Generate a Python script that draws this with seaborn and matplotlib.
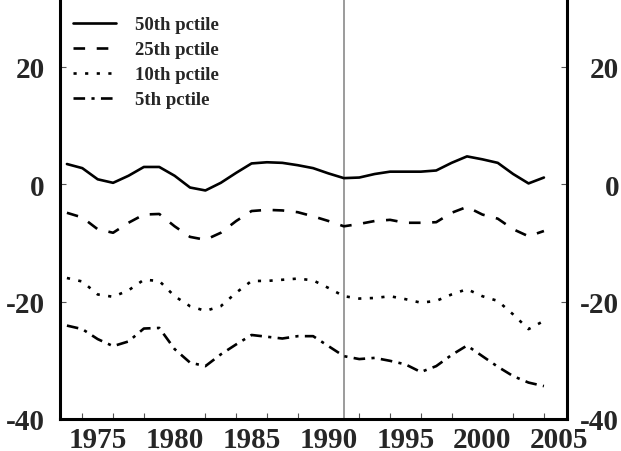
import pandas as pd
import seaborn as sns
import matplotlib.pyplot as plt
import matplotlib.transforms as mtransforms
from matplotlib.ticker import FixedLocator

# data
years = list(range(1973, 2005))

p50 = [3.4, 2.7, 0.8, 0.2, 1.4, 2.9, 2.9, 1.4, -0.6, -1.1, 0.2, 1.9,
       3.5, 3.7, 3.6, 3.2, 2.7, 1.8, 1.0, 1.1, 1.7, 2.1, 2.1, 2.1,
       2.3, 3.6, 4.7, 4.2, 3.6, 1.7, 0.1, 1.1]
p25 = [-4.9, -5.7, -7.7, -8.3, -6.6, -5.2, -5.1, -7.2, -9.0, -9.5, -8.3, -6.3,
       -4.6, -4.4, -4.5, -4.8, -5.5, -6.3, -7.2, -6.8, -6.3, -6.1, -6.6, -6.6,
       -6.5, -4.9, -3.9, -5.2, -5.9, -7.7, -8.9, -8.0]
p10 = [-16.0, -16.6, -18.8, -19.2, -18.1, -16.3, -16.5, -19.1, -20.8, -21.6, -20.8, -18.5,
       -16.5, -16.5, -16.3, -16.1, -16.4, -17.7, -19.1, -19.5, -19.4, -19.1, -19.6, -20.2,
       -19.9, -18.8, -17.9, -19.1, -19.9, -22.2, -24.7, -23.3]
p5 = [-24.1, -24.7, -26.4, -27.6, -26.8, -24.6, -24.5, -28.1, -30.4, -31.0, -29.0, -27.3,
      -25.7, -26.0, -26.3, -25.9, -25.9, -27.6, -29.3, -29.8, -29.6, -30.1, -30.7, -32.0,
      -31.0, -29.1, -27.5, -29.3, -31.1, -32.7, -33.8, -34.4]

labels = ["50th pctile", "25th pctile", "10th pctile", "5th pctile"]
series = [p50, p25, p10, p5]
styles = ["-", (0, (4.4, 4.4)), (0, (1.2, 3.2)), (0, (4.4, 2.4, 1.2, 2.4))]

x_labels = [1975, 1980, 1985, 1990, 1995, 2000, 2005]
y_ticks = [-40, -20, 0, 20]
break_year = 1991

df = pd.DataFrame({"year": years})
for lab, vals in zip(labels, series):
    df[lab] = vals

sns.set_style("white")
plt.rcParams["font.family"] = ["Liberation Serif", "DejaVu Serif"]
plt.rcParams["font.weight"] = "bold"

fig = plt.figure(figsize=(6.21, 4.52), dpi=100)
ax = fig.add_axes([60 / 621, 32 / 452, 507 / 621, 470 / 452])

for lab, ls in zip(labels, styles):
    sns.lineplot(data=df, x="year", y=lab, ax=ax, color="black",
                 linewidth=1.9, linestyle=ls, label=lab)

ax.axvline(break_year, color="#808080", linewidth=1.1, zorder=0)

ax.set_xlim(1972.55, 2005.5)
ax.set_ylim(-40, 40)
ax.set_xlabel("")
ax.set_ylabel("")

# spines
for side in ["left", "right", "bottom"]:
    ax.spines[side].set_linewidth(2.2)
    ax.spines[side].set_color("black")
ax.spines["top"].set_visible(False)

# x axis: labels without marks, small marks at even years
ax.xaxis.set_major_locator(FixedLocator(x_labels))
ax.set_xticklabels([str(v) for v in x_labels])
ax.xaxis.set_minor_locator(FixedLocator(list(range(1974, 2005, 2))))
ax.tick_params(axis="x", which="major", length=0, pad=5, labelsize=21)
ax.tick_params(axis="x", which="minor", bottom=True, direction="in",
               length=4, width=0.8, color="#555555")

# y axis labels on both sides, right ones right-aligned near the edge
ax.set_yticks(y_ticks)
ax.set_yticklabels([str(v) for v in y_ticks])
ax.tick_params(axis="y", which="major", left=True, right=True,
               labelleft=True, labelright=True, direction="in",
               length=4, width=0.8, color="#555555", labelsize=21, pad=11)
offset = mtransforms.ScaledTranslation(26.5 / 72, 0, fig.dpi_scale_trans)
for tick in ax.yaxis.get_major_ticks():
    tick.label2.set_horizontalalignment("right")
    tick.label2.set_transform(tick.label2.get_transform() + offset)

for lbl in ax.get_xticklabels() + ax.get_yticklabels():
    lbl.set_fontweight("bold")

ax.legend(loc="upper left", bbox_to_anchor=(73 / 621, 1 - 17 / 452),
          bbox_transform=fig.transFigure, frameon=False, borderpad=0,
          borderaxespad=0, prop={"size": 13.5, "weight": "bold"},
          handlelength=2.3, handletextpad=1.0, labelspacing=0.42)

fig.savefig("out.png", dpi=100)
